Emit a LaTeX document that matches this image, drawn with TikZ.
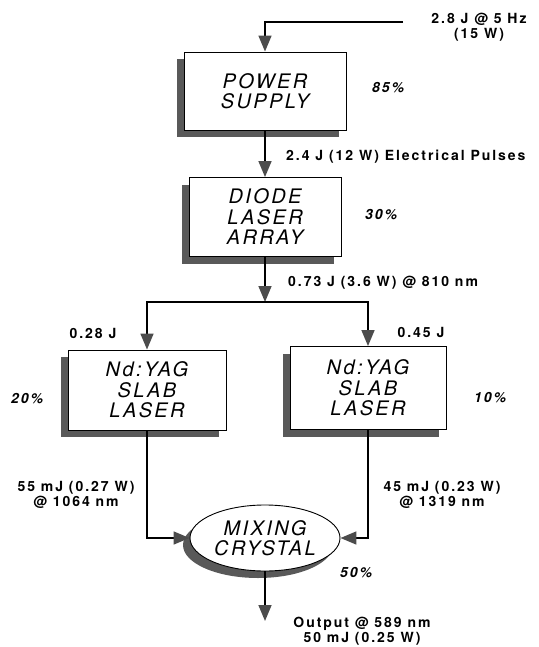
\documentclass[tikz,border=0pt]{standalone}
\usepackage{fontspec}
\setmainfont{TeX Gyre Heros}
\newfontfamily\labfont[LetterSpace=14]{TeX Gyre Heros}
\newfontfamily\boxfont[LetterSpace=12]{TeX Gyre Heros}
\usetikzlibrary{arrows.meta,shapes.geometric,shadows}
\begin{document}
\begin{tikzpicture}[x=1pt,y=-1pt,
  blk/.style={draw=black, line width=0.9pt, fill=white, align=center, inner sep=0pt,
    font=\boxfont\itshape\fontsize{20}{20.5}\selectfont,
    drop shadow={shadow xshift=-7pt, shadow yshift=-7pt, fill=black!65, opacity=1}},
  ell/.style={blk, ellipse},
  lab/.style={font=\labfont\bfseries\fontsize{14}{15.5}\selectfont, align=center, inner sep=0pt},
  pct/.style={font=\labfont\bfseries\itshape\fontsize{14}{15.5}\selectfont, inner sep=0pt},
  conn/.style={line width=1.6pt, -{Triangle[width=13pt,length=16pt,color=black!70]}}
]
\useasboundingbox (0,0) rectangle (538,647);

\node[blk, minimum width=162pt, minimum height=78pt] (ps) at (265,91) {POWER\\SUPPLY};
\node[blk, minimum width=152pt, minimum height=79pt] (dla) at (265,217) {DIODE\\LASER\\ARRAY};
\node[blk, minimum width=158pt, minimum height=80pt] (lb) at (147,390) {Nd:YAG\\SLAB\\LASER};
\node[blk, minimum width=156pt, minimum height=83pt] (rb) at (368,388) {Nd:YAG\\SLAB\\LASER};
\node[ell, minimum width=150pt, minimum height=66pt] (mx) at (265,538) {MIXING\\CRYSTAL};

\coordinate (inR) at (403,22);
\coordinate (split) at (265,302);
\coordinate (out) at (265,621);

\draw[conn] (inR) -| (ps.north);
\draw[conn] (ps.south) -- (dla.north);
\draw[conn] (dla.south) -- (split);
\draw[conn] (split) -| (lb.north);
\draw[conn] (split) -| (rb.north);
\draw[conn] (lb.south) |- (mx.west);
\draw[conn] (rb.south) |- (mx.east);
\draw[conn] (mx.south) -- (out);

\node[lab] (tin) at (479,27) {2.8 J @ 5 Hz\\(15 W)};
\node[pct] (p85) at (388,88) {85\%};
\node[lab, anchor=west] (t24) at (286,157) {2.4 J (12 W) Electrical Pulses};
\node[pct] (p30) at (381,215) {30\%};
\node[lab, anchor=west] (t073) at (288,283) {0.73 J (3.6 W) @ 810 nm};
\node[lab] (t028) at (93,333) {0.28 J};
\node[lab] (t045) at (421,332) {0.45 J};
\node[pct] (p20) at (27,399) {20\%};
\node[pct] (p10) at (490,398) {10\%};
\node[lab] (t55) at (76,495) {55 mJ (0.27 W)\\@ 1064 nm};
\node[lab] (t45) at (442,495) {45 mJ (0.23 W)\\@ 1319 nm};
\node[pct] (p50) at (356,573) {50\%};
\node[lab] (tout) at (362,631) {Output @ 589 nm\\50 mJ (0.25 W)};
\end{tikzpicture}
\end{document}
